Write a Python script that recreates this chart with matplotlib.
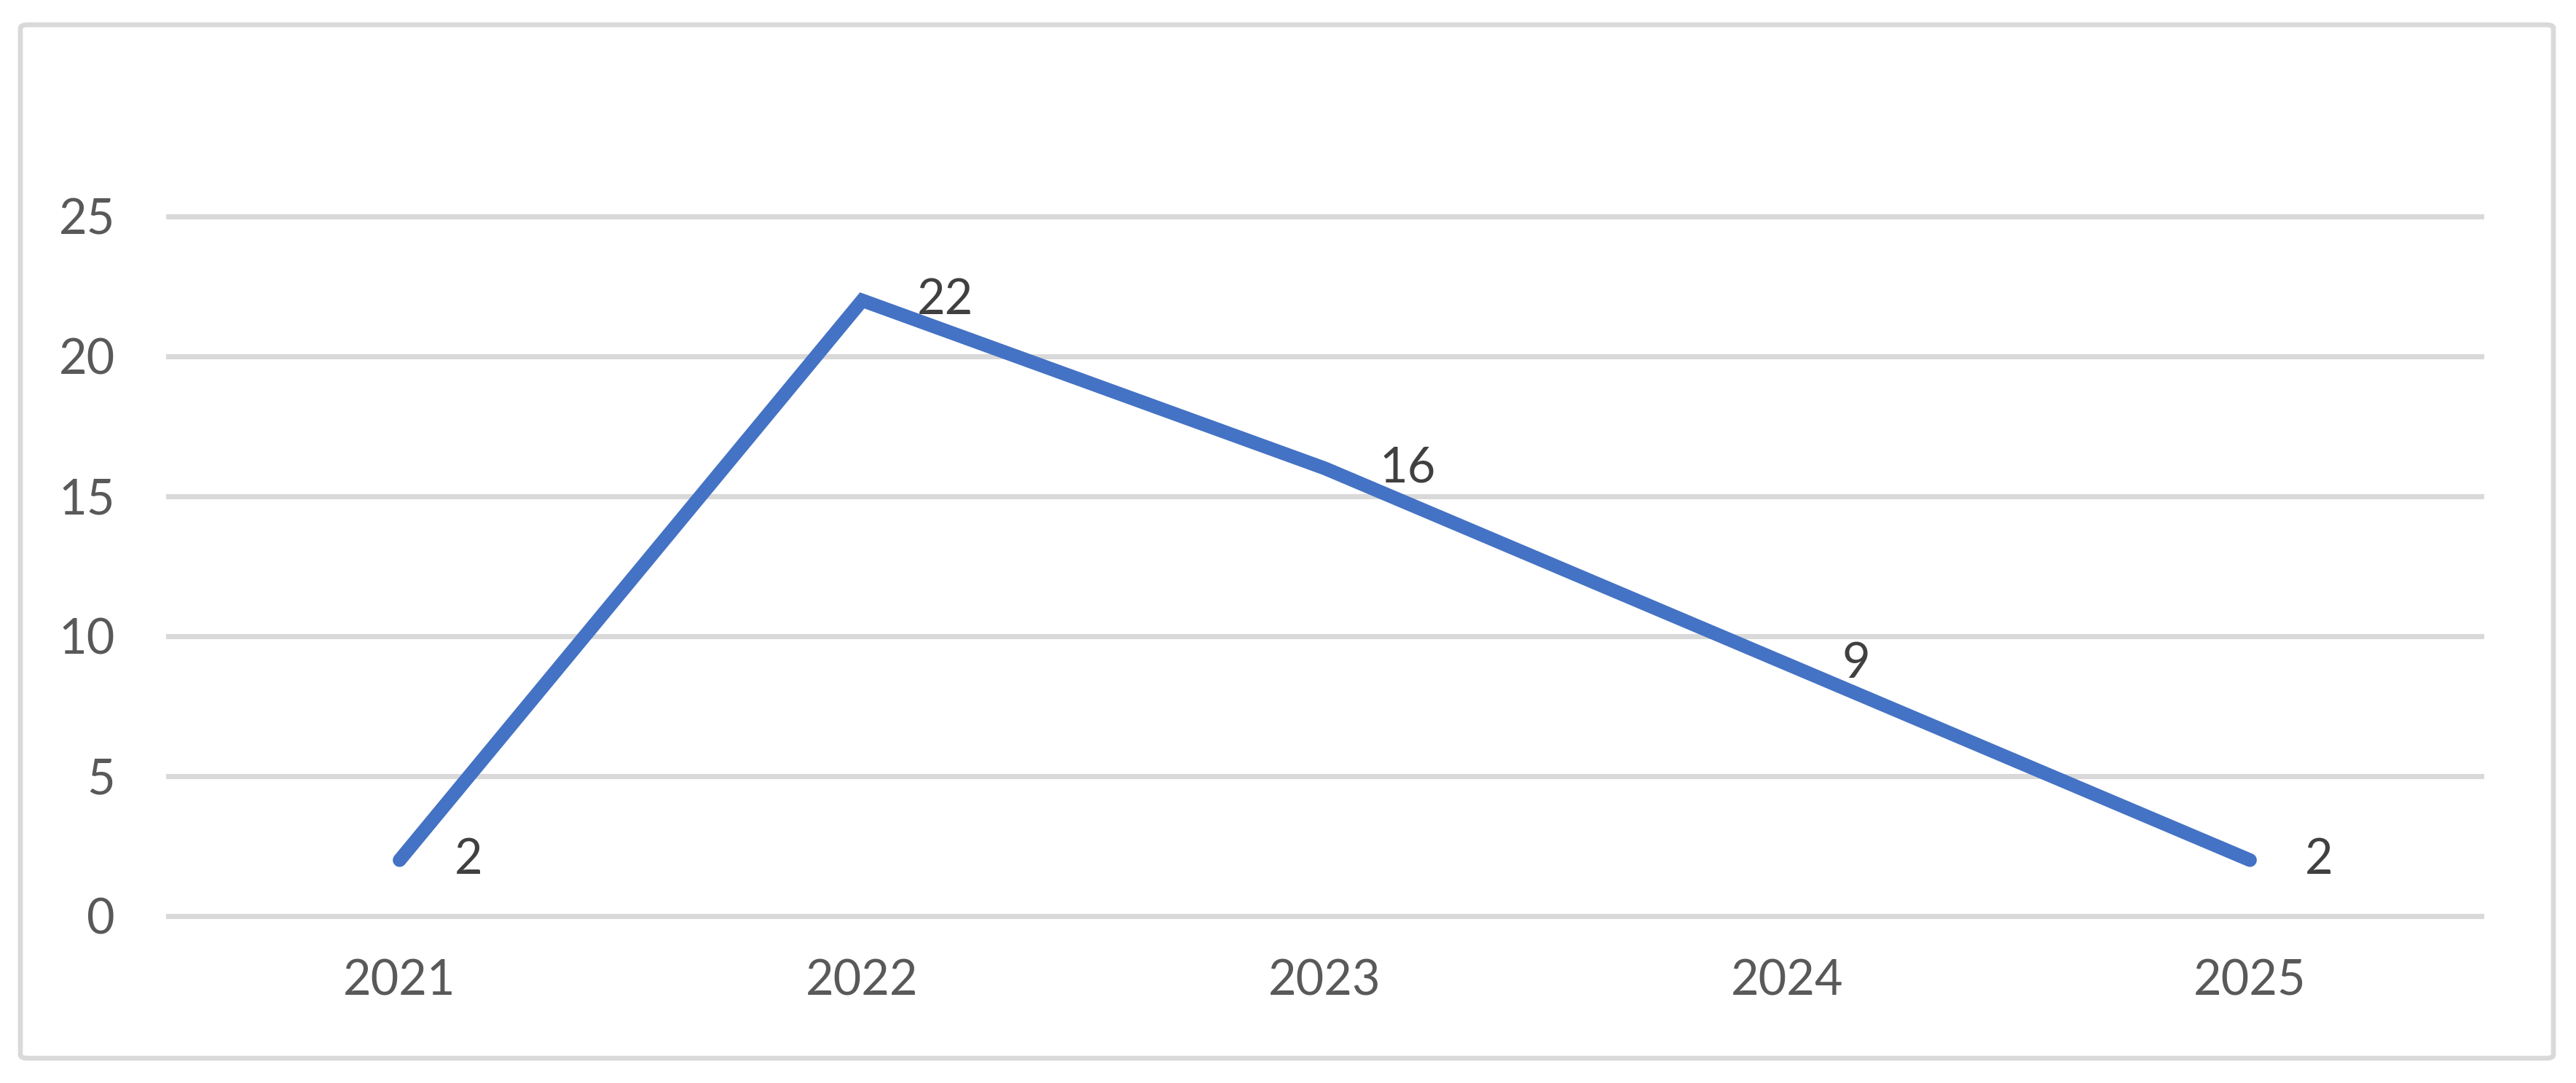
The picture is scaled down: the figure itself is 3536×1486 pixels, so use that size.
import matplotlib
matplotlib.use('Agg')
import matplotlib.pyplot as plt
from matplotlib.patches import FancyBboxPatch

plt.rcParams['font.family'] = ['Lato', 'DejaVu Sans']

# дані з графіка
years = ['2021', '2022', '2023', '2024', '2025']
values = [2, 22, 16, 9, 2]
y_ticks = [0, 5, 10, 15, 20, 25]

W, H, DPI = 3537, 1486, 300
fig = plt.figure(figsize=(W / DPI, H / DPI), dpi=DPI)

# рамка навколо діаграми
border = FancyBboxPatch((28 / W, (H - 1452) / H), (3505 - 28) / W, (1452 - 34) / H,
                        boxstyle='round,pad=0,rounding_size=0.003',
                        transform=fig.transFigure, fill=False,
                        edgecolor='#D9D9D9', linewidth=1.6)
fig.patches.append(border)

ax = fig.add_axes([231 / W, (H - 1257) / H, 3175 / W, (1257 - 258.6) / H])

x = list(range(len(years)))
ax.plot(x, values, color='#4472C4', linewidth=4.5, solid_capstyle='round',
        solid_joinstyle='miter', zorder=3)

for xi, v in zip(x, values):
    ax.annotate(str(v), (xi, v), xytext=(18, 0), textcoords='offset points',
                ha='left', va='center', fontsize=16, color='#404040', zorder=4)

ax.set_xlim(-0.5, len(years) - 0.5)
ax.set_ylim(0, 26)
ax.set_yticks(y_ticks)
ax.set_xticks(x)
ax.set_xticklabels(years)

ax.grid(axis='y', color='#D9D9D9', linewidth=1.7, zorder=0)
for gl in ax.get_ygridlines():
    gl.set_clip_on(False)
ax.set_axisbelow(True)
for s in ax.spines.values():
    s.set_visible(False)

ax.tick_params(axis='both', length=0, labelsize=16, labelcolor='#595959')
ax.tick_params(axis='y', pad=17.5)
ax.tick_params(axis='x', pad=14)

fig.savefig('out.png', dpi=DPI, facecolor='white')
